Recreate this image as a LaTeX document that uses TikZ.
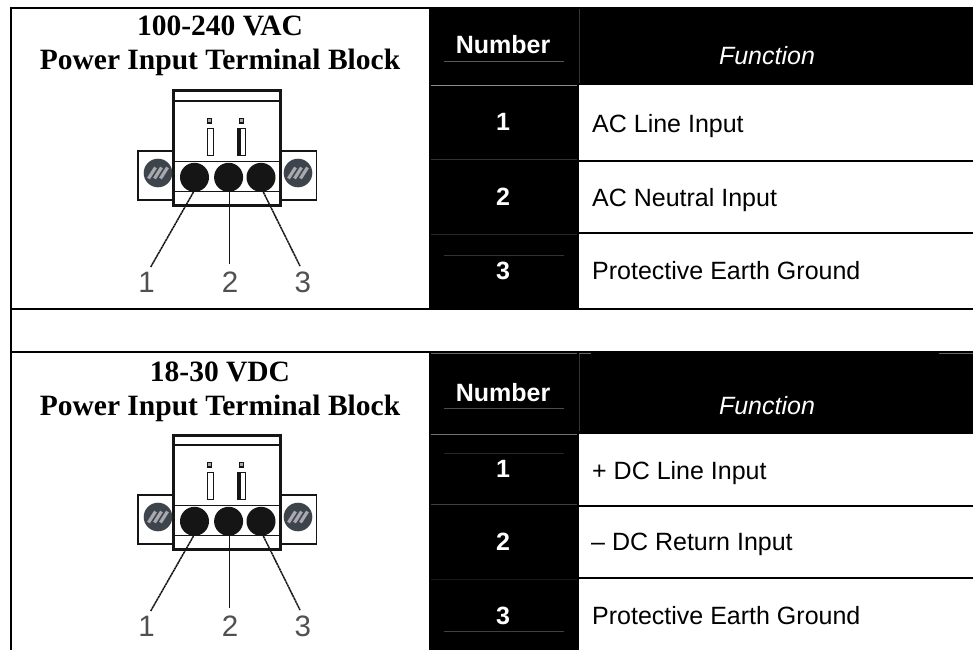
\documentclass[tikz,border=0pt]{standalone}
\usepackage{fontspec}
\setmainfont{Liberation Serif}
\setsansfont{Liberation Sans}
\usetikzlibrary{calc}
\definecolor{inkdark}{HTML}{151515}
\definecolor{screwgray}{HTML}{3E444C}
\definecolor{screwlite}{HTML}{A8A8AE}
\tikzset{
  x=1pt,y=-1pt,
  rulethick/.style={line width=2pt,black},
  hair/.style={line width=0.8pt,draw=#1},
  titletext/.style={font=\fontsize{29.5}{33}\selectfont\bfseries,align=center,inner sep=0pt,anchor=base},
  numhead/.style={font=\sffamily\bfseries\fontsize{25}{30}\selectfont,text=white,inner sep=0pt,anchor=base},
  funchead/.style={font=\sffamily\itshape\fontsize{25}{30}\selectfont,text=white,inner sep=0pt,anchor=base},
  celltext/.style={font=\sffamily\fontsize{25}{30}\selectfont,text=black,inner sep=0pt,anchor=base west},
  hole/.style={circle,fill=inkdark,inner sep=0pt,minimum size=29pt},
  pinbox/.style={draw=inkdark,line width=1.8pt,fill=white},
  digit/.style={font=\sffamily\fontsize{29.5}{30}\selectfont,text=inkdark!75,inner sep=0pt,anchor=base},
  leader/.style={draw=inkdark,line width=1.5pt},
  leaderdot/.style={leader,dash pattern=on 2.5pt off 0.5pt},
  tblock/.pic={
    \draw[inkdark,line width=1.3pt] (138,151) rectangle (173,200);
    \draw[inkdark,line width=1.3pt] (280,151) rectangle (316.7,200);
    \fill[white] (173,91) rectangle (280,205);
    \draw[inkdark,line width=1.5pt] (173,101) -- (280,101);
    \draw[inkdark,line width=1.5pt] (173,161.5) -- (280,161.5);
    \draw[inkdark,line width=1.5pt] (173,191.5) -- (280,191.5);
    \draw[inkdark,line width=3pt] (173,91) rectangle (280,205);
    \foreach \sx in {158,298}{
      \fill[screwgray] (\sx,173) circle (14.3);
      \foreach \d in {-6,0,6}{
        \draw[screwlite,line width=3.2pt] ($(\sx,173)+(\d-3.5,5.5)$) -- ($(\sx,173)+(\d+3.5,-5.5)$);
      }
    }
    \node[hole] (-h1) at (194.5,177.3) {};
    \node[hole] (-h2) at (228.6,177.3) {};
    \node[hole] (-h3) at (261,177.3) {};
    \draw[pinbox] (207.5,128.5) rectangle (213.5,155.5);
    \draw[pinbox] (238,128.5) rectangle (245.5,155.5);
    \fill[inkdark] (237,128.5) rectangle (240.5,155.5);
    \draw[inkdark,line width=1.2pt,fill=screwlite] (207.4,118.8) rectangle (211.6,123);
    \draw[inkdark,line width=1.2pt,fill=screwlite] (239.6,118.8) rectangle (243.8,123);
    \node[digit] (-d1) at (146.7,292.5) {1};
    \node[digit] (-d2) at (230,292.5) {2};
    \node[digit] (-d3) at (302.7,292.5) {3};
    \coordinate (-e1) at (150.7,267);
    \coordinate (-e2) at (229.3,264);
    \coordinate (-e3) at (300,266);
    \draw[leaderdot] (-h1.south) ++(-1,0) -- (-e1);
    \draw[leader] (-h2.south) ++(0.7,0) -- (-e2);
    \draw[leaderdot] (-h3.south) ++(2.3,0) -- (-e3);
  }
}
\begin{document}
\begin{tikzpicture}
\useasboundingbox (0,0) rectangle (973,650);
\fill[white] (0,0) rectangle (973,650);
% black areas, upper table
\fill[black] (429,8) rectangle (973,84.7);
\fill[black] (429,84.7) rectangle (579,308);
% black areas, lower table
\fill[black] (429,352) rectangle (973,434);
\fill[black] (429,434) rectangle (579,650);
% rules
\draw[rulethick] (11,8) -- (973,8);
\draw[rulethick] (11,7) -- (11,650);
\draw[rulethick] (11,309) -- (973,309);
\draw[rulethick] (11,352) -- (973,352);
\draw[rulethick] (579,160.5) -- (973,160.5);
\draw[rulethick] (579,232.7) -- (973,232.7);
\draw[rulethick] (579,505.7) -- (973,505.7);
\draw[rulethick] (579,577.7) -- (973,577.7);
% hairlines in the black columns
\draw[hair=black!45] (431,85) -- (577,85);
\draw[hair=black!80] (431,159.7) -- (577,159.7);
\draw[hair=black!85] (431,234.3) -- (577,234.3);
\draw[hair=black!65] (444,61.3) -- (564,61.3);
\draw[hair=black!80] (444,255.3) -- (564,255.3);
\draw[hair=black!80] (579,9) -- (579,83);
\draw[hair=black!60] (431,353.5) -- (577,353.5);
\draw[hair=black!60] (579,353.5) -- (591,353.5);
\draw[hair=black!60] (939,353.5) -- (973,353.5);
\draw[hair=black!70] (444,408) -- (564,408);
\draw[hair=black!55] (431,434.3) -- (577,434.3);
\draw[hair=black!85] (444,453.3) -- (564,453.3);
\draw[hair=black!75] (431,504.3) -- (577,504.3);
\draw[hair=black!90] (431,579.3) -- (577,579.3);
\draw[hair=black!75] (444,631.3) -- (564,631.3);
\draw[hair=black!80] (579,354) -- (579,431);
% titles
\node[titletext] (t1a) at (220,36) {100-240 VAC};
\node[titletext] (t1b) at (220,69.3) {Power Input Terminal Block};
\node[titletext] (t2a) at (220,381.7) {18-30 VDC};
\node[titletext] (t2b) at (220,415) {Power Input Terminal Block};
% upper table text
\node[numhead] (n1) at (503,54) {Number};
\node[funchead] (f1) at (767,64.7) {Function};
\node[numhead] (n11) at (503,130.7) {1};
\node[numhead] (n12) at (503,205) {2};
\node[numhead] (n13) at (503,279) {3};
\node[celltext] (c11) at (592,132) {AC Line Input};
\node[celltext] (c12) at (592,206) {AC Neutral Input};
\node[celltext] (c13) at (592,279.3) {Protective Earth Ground};
% lower table text
\node[numhead] (n2) at (503,401.7) {Number};
\node[funchead] (f2) at (767,414) {Function};
\node[numhead] (n21) at (503,477.7) {1};
\node[numhead] (n22) at (503,550) {2};
\node[numhead] (n23) at (503,624.7) {3};
\node[celltext] (c21) at (592,479.3) {+ DC Line Input};
\node[celltext] (c22) at (591,550.7) {– DC Return Input};
\node[celltext] (c23) at (592,624.7) {Protective Earth Ground};
% terminal blocks
\pic (a) at (0,0) {tblock};
\pic (b) at (0,344) {tblock};
\end{tikzpicture}
\end{document}
